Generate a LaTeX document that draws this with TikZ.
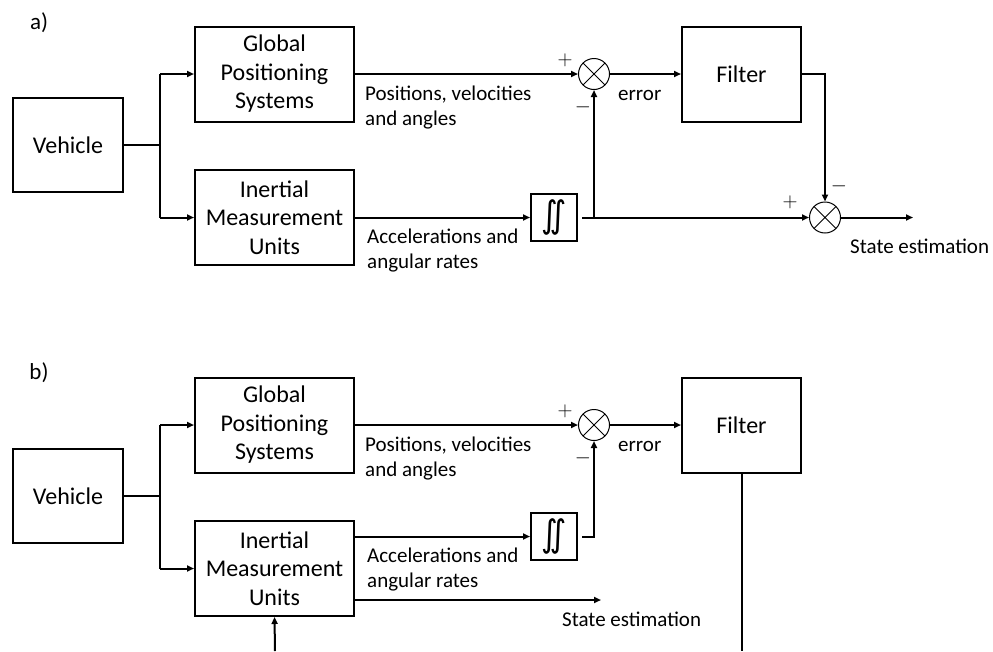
\documentclass[tikz,border=0pt]{standalone}
\usepackage{fontspec}
\setmainfont{Carlito}
\newfontfamily\symbolfont{DejaVu Sans}
\usetikzlibrary{arrows.meta}

\begin{document}
\begin{tikzpicture}[x=1pt,y=-1pt,
  blockbox/.style={draw,line width=2pt,inner sep=0pt,align=center,
    font=\fontsize{24}{28.5}\selectfont},
  intbox/.style={draw,line width=2pt,minimum width=46pt,minimum height=47pt,
    inner sep=0pt,font=\symbolfont\fontsize{32}{32}\selectfont},
  sumjunc/.style={draw,circle,line width=1pt,minimum size=31pt,inner sep=0pt,
    path picture={\draw[line width=1pt]
      (path picture bounding box.north west) -- (path picture bounding box.south east)
      (path picture bounding box.north east) -- (path picture bounding box.south west);}},
  wire/.style={line width=2pt},
  sig/.style={line width=2pt,-{Triangle[length=7pt,width=6pt]}},
  lbl/.style={font=\fontsize{21}{25}\selectfont,align=left,inner sep=0pt},
  panel/.style={font=\fontsize{23}{28}\selectfont,inner sep=0pt},
  sgn/.style={font=\fontsize{20}{20}\selectfont,inner sep=0pt},
]
\fill[white] (0,0) rectangle (993,651);
\useasboundingbox (0,0) rectangle (993,651);

% ---------- a) output correction scheme ----------
\node[panel] (tagA) at (39,23) {a)};
\node[blockbox,minimum width=110pt,minimum height=94pt] (vehA) at (68,145) {Vehicle};
\node[blockbox,minimum width=159pt,minimum height=95pt] (gpsA) at (274.5,74) {Global\\Positioning\\Systems};
\node[blockbox,minimum width=159pt,minimum height=95pt] (imuA) at (274.5,217.5) {Inertial\\Measurement\\Units};
\node[blockbox,minimum width=119pt,minimum height=95pt] (filtA) at (741.5,74) {Filter};
\node[intbox] (intA) at (554,217.5) {\scalebox{1}[1.15]{∬}};
\node[sumjunc] (sumA1) at (594,74) {};
\node[sumjunc] (sumA2) at (825,217.5) {};

\coordinate (forkA) at (160,145);
\coordinate (tapA) at (594,217.5);
\coordinate (outA) at (913,217.5);

\draw[wire] (vehA.east) -- (forkA);
\draw[wire] (forkA |- gpsA.west) -- (forkA |- imuA.west);
\draw[sig] (forkA |- gpsA.west) -- (gpsA.west);
\draw[sig] (forkA |- imuA.west) -- (imuA.west);
\draw[sig] (gpsA.east) -- (sumA1.west);
\draw[sig] (sumA1.east) -- (filtA.west);
\draw[sig] (imuA.east) -- (intA.west);
\draw[wire] ([xshift=4pt]intA.east) -- (tapA);
\draw[sig] (tapA) -- (sumA1.south);
\draw[sig] (tapA) -- (sumA2.west);
\draw[sig] (filtA.east) -| (sumA2.north);
\draw[sig] (sumA2.east) -- (outA);

\node[lbl,anchor=base west] (posA) at (365,125) {Positions, velocities\\and angles};
\node[lbl,anchor=base west] (accA) at (367,268) {Accelerations and\\angular rates};
\node[lbl,anchor=base west] (errA) at (618,100) {error};
\node[lbl,anchor=base west] (estA) at (850,253) {State estimation};

\node[sgn] (plusA1) at (565,60) {$+$};
\node[sgn] (minusA1) at (583,107) {$-$};
\node[sgn] (plusA2) at (790,202) {$+$};
\node[sgn] (minusA2) at (839,186) {$-$};

% ---------- b) feedback correction scheme ----------
\node[panel] (tagB) at (39,373) {b)};
\node[blockbox,minimum width=110pt,minimum height=94pt] (vehB) at (68,496) {Vehicle};
\node[blockbox,minimum width=159pt,minimum height=95pt] (gpsB) at (274.5,425) {Global\\Positioning\\Systems};
\node[blockbox,minimum width=159pt,minimum height=95pt] (imuB) at (274.5,568.5) {Inertial\\Measurement\\Units};
\node[blockbox,minimum width=119pt,minimum height=95pt] (filtB) at (741.5,425) {Filter};
\node[intbox] (intB) at (554,536.5) {\scalebox{1}[1.15]{∬}};
\node[sumjunc] (sumB1) at (594,425) {};

\coordinate (forkB) at (160,496);
\coordinate (outB) at (601,600);
\coordinate (filtEnd) at (741.5,651);
\coordinate (imuFeed) at (275,651);

\draw[wire] (vehB.east) -- (forkB);
\draw[wire] (forkB |- gpsB.west) -- (forkB |- imuB.west);
\draw[sig] (forkB |- gpsB.west) -- (gpsB.west);
\draw[sig] (forkB |- imuB.west) -- (imuB.west);
\draw[sig] (gpsB.east) -- (sumB1.west);
\draw[sig] (sumB1.east) -- (filtB.west);
\draw[sig] (imuB.east |- intB.west) -- (intB.west);
\draw[sig] ([xshift=4pt]intB.east) -| (sumB1.south);
\draw[sig] (imuB.east |- outB) -- (outB);
\draw[wire] (filtB.south) -- (filtEnd);
\draw[sig] (imuFeed) -- (imuB.south);

\node[lbl,anchor=base west] (posB) at (365,476) {Positions, velocities\\and angles};
\node[lbl,anchor=base west] (accB) at (367,587) {Accelerations and\\angular rates};
\node[lbl,anchor=base west] (errB) at (618,451) {error};
\node[lbl,anchor=base west] (estB) at (562,626) {State estimation};

\node[sgn] (plusB1) at (565,411) {$+$};
\node[sgn] (minusB1) at (583,458) {$-$};
\end{tikzpicture}
\end{document}
